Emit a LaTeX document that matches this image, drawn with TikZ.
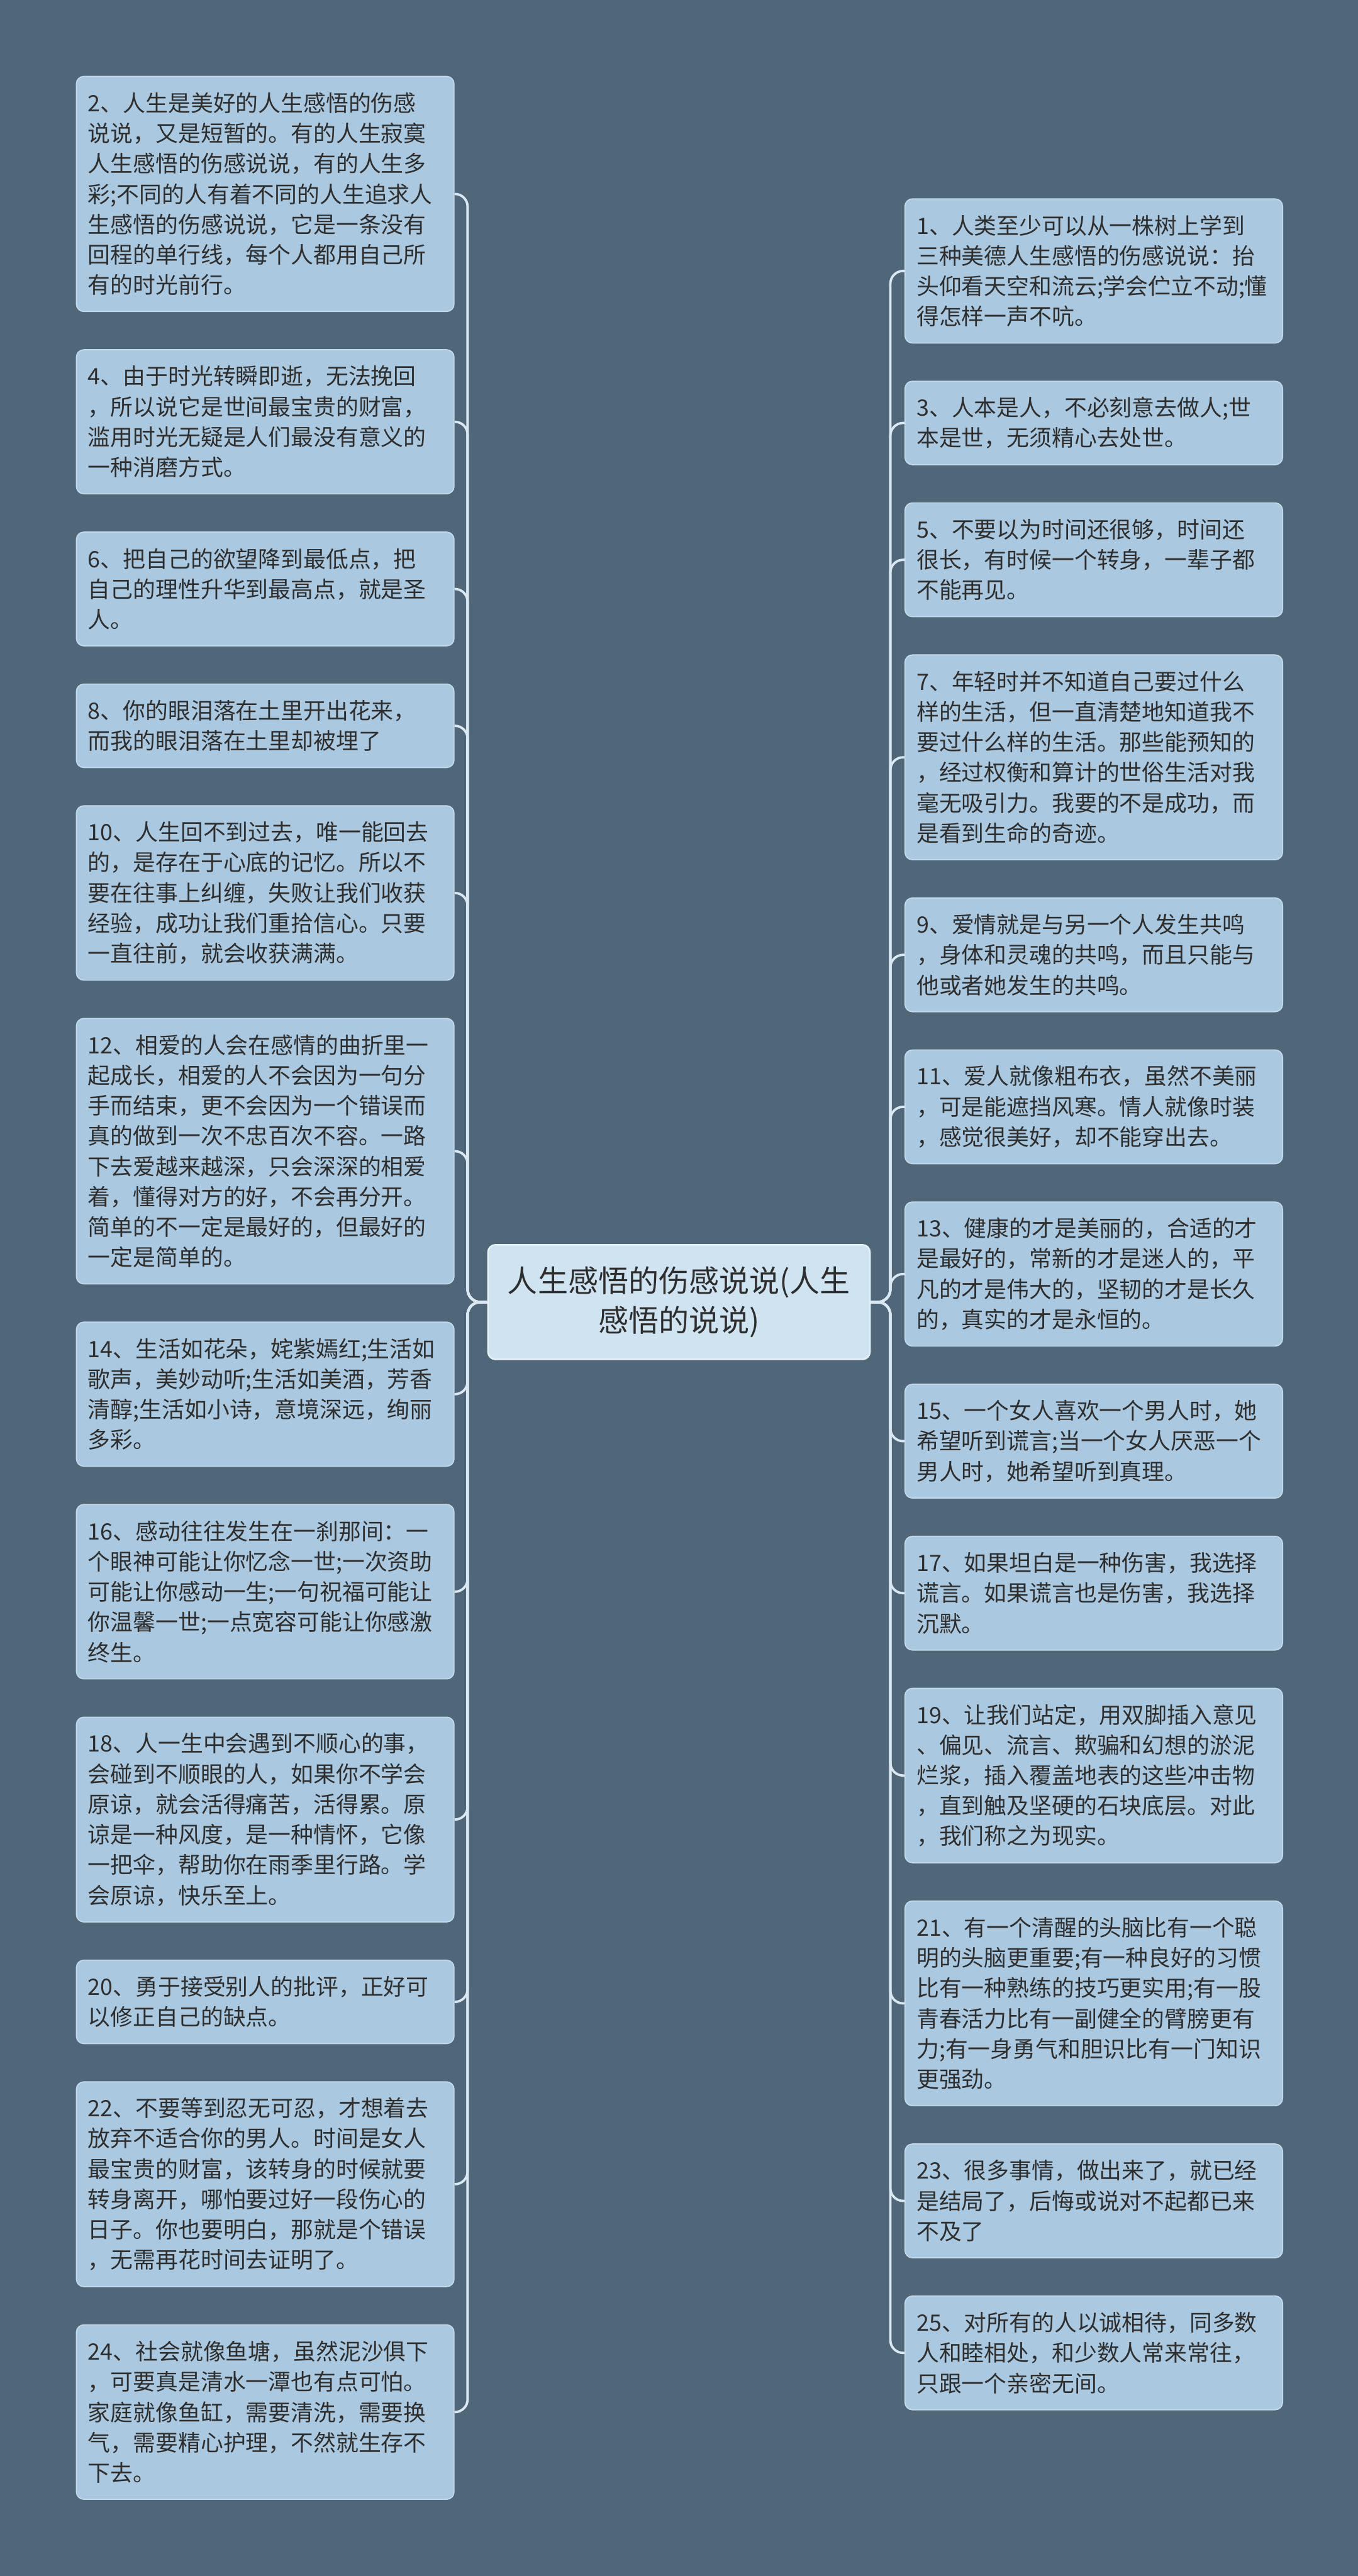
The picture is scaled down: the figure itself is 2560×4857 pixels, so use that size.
\documentclass[tikz,border=0pt]{standalone}
\usepackage{fontspec}
\newfontfamily\cjk{Noto Sans CJK SC}
\definecolor{bgc}{HTML}{4F6778}
\definecolor{leaffill}{HTML}{AAC9E0}
\definecolor{leafedge}{HTML}{C4DAEA}
\definecolor{centerfill}{HTML}{CFE3F1}
\definecolor{centeredge}{HTML}{E6F1F8}
\definecolor{txt}{HTML}{2E2E2E}
\definecolor{linec}{HTML}{D9E8F2}
\tikzset{
  leaf/.style={draw=leafedge, line width=2pt, fill=leaffill, rounded corners=14pt,
    text width=668pt, inner xsep=22pt, inner ysep=0pt, align=left, text=txt,
    font=\cjk\fontsize{42.5}{57.2}\selectfont},
  lleaf/.style={leaf, anchor=north west},
  rleaf/.style={leaf, anchor=north west},
  nlines/.style={minimum height={(57.2*#1+43)*1pt}},
  hub/.style={draw=centeredge, line width=3pt, fill=centerfill, rounded corners=14pt,
    minimum width=720pt, minimum height=216pt, align=center, text=txt, inner sep=0pt,
    font=\cjk\fontsize{57}{74}\selectfont},
  conn/.style={draw=linec, line width=4.5pt, rounded corners=24pt}
}
\begin{document}
\begin{tikzpicture}[x=1pt, y=-1pt]
\fill[bgc] (0,0) rectangle (2560,4857);
\useasboundingbox (0,0) rectangle (2560,4857);

\node[hub] (c) at (1280,2455) {人生感悟的伤感说说(人生\\感悟的说说)};

% left column
\node[lleaf, nlines=7] (b2) at (143,143) {2、人生是美好的人生感悟的伤感\\说说，又是短暂的。有的人生寂寞\\人生感悟的伤感说说，有的人生多\\彩;不同的人有着不同的人生追求人\\生感悟的伤感说说，它是一条没有\\回程的单行线，每个人都用自己所\\有的时光前行。};
\node[lleaf, nlines=4] (b4) at (143,658.4) {4、由于时光转瞬即逝，无法挽回\\，所以说它是世间最宝贵的财富，\\滥用时光无疑是人们最没有意义的\\一种消磨方式。};
\node[lleaf, nlines=3] (b6) at (143,1002.2) {6、把自己的欲望降到最低点，把\\自己的理性升华到最高点，就是圣\\人。};
\node[lleaf, nlines=2] (b8) at (143,1288.8) {8、你的眼泪落在土里开出花来，\\而我的眼泪落在土里却被埋了};
\node[lleaf, nlines=5] (b10) at (143,1518.2) {10、人生回不到过去，唯一能回去\\的，是存在于心底的记忆。所以不\\要在往事上纠缠，失败让我们收获\\经验，成功让我们重拾信心。只要\\一直往前，就会收获满满。};
\node[lleaf, nlines=8] (b12) at (143,1919.2) {12、相爱的人会在感情的曲折里一\\起成长，相爱的人不会因为一句分\\手而结束，更不会因为一个错误而\\真的做到一次不忠百次不容。一路\\下去爱越来越深，只会深深的相爱\\着，懂得对方的好，不会再分开。\\简单的不一定是最好的，但最好的\\一定是简单的。};
\node[lleaf, nlines=4] (b14) at (143,2491.8) {14、生活如花朵，姹紫嫣红;生活如\\歌声，美妙动听;生活如美酒，芳香\\清醇;生活如小诗，意境深远，绚丽\\多彩。};
\node[lleaf, nlines=5] (b16) at (143,2835.6) {16、感动往往发生在一刹那间：一\\个眼神可能让你忆念一世;一次资助\\可能让你感动一生;一句祝福可能让\\你温馨一世;一点宽容可能让你感激\\终生。};
\node[lleaf, nlines=6] (b18) at (143,3236.6) {18、人一生中会遇到不顺心的事，\\会碰到不顺眼的人，如果你不学会\\原谅，就会活得痛苦，活得累。原\\谅是一种风度，是一种情怀，它像\\一把伞，帮助你在雨季里行路。学\\会原谅，快乐至上。};
\node[lleaf, nlines=2] (b20) at (143,3694.8) {20、勇于接受别人的批评，正好可\\以修正自己的缺点。};
\node[lleaf, nlines=6] (b22) at (143,3924.2) {22、不要等到忍无可忍，才想着去\\放弃不适合你的男人。时间是女人\\最宝贵的财富，该转身的时候就要\\转身离开，哪怕要过好一段伤心的\\日子。你也要明白，那就是个错误\\，无需再花时间去证明了。};
\node[lleaf, nlines=5] (b24) at (143,4382.4) {24、社会就像鱼塘，虽然泥沙俱下\\，可要真是清水一潭也有点可怕。\\家庭就像鱼缸，需要清洗，需要换\\气，需要精心护理，不然就生存不\\下去。};

% right column
\node[rleaf, nlines=4] (b1) at (1705,374) {1、人类至少可以从一株树上学到\\三种美德人生感悟的伤感说说：抬\\头仰看天空和流云;学会伫立不动;懂\\得怎样一声不吭。};
\node[rleaf, nlines=2] (b3) at (1705,717.8) {3、人本是人，不必刻意去做人;世\\本是世，无须精心去处世。};
\node[rleaf, nlines=3] (b5) at (1705,947.2) {5、不要以为时间还很够，时间还\\很长，有时候一个转身，一辈子都\\不能再见。};
\node[rleaf, nlines=6] (b7) at (1705,1233.8) {7、年轻时并不知道自己要过什么\\样的生活，但一直清楚地知道我不\\要过什么样的生活。那些能预知的\\，经过权衡和算计的世俗生活对我\\毫无吸引力。我要的不是成功，而\\是看到生命的奇迹。};
\node[rleaf, nlines=3] (b9) at (1705,1692) {9、爱情就是与另一个人发生共鸣\\，身体和灵魂的共鸣，而且只能与\\他或者她发生的共鸣。};
\node[rleaf, nlines=3] (b11) at (1705,1978.6) {11、爱人就像粗布衣，虽然不美丽\\，可是能遮挡风寒。情人就像时装\\，感觉很美好，却不能穿出去。};
\node[rleaf, nlines=4] (b13) at (1705,2265.2) {13、健康的才是美丽的，合适的才\\是最好的，常新的才是迷人的，平\\凡的才是伟大的，坚韧的才是长久\\的，真实的才是永恒的。};
\node[rleaf, nlines=3] (b15) at (1705,2609) {15、一个女人喜欢一个男人时，她\\希望听到谎言;当一个女人厌恶一个\\男人时，她希望听到真理。};
\node[rleaf, nlines=3] (b17) at (1705,2895.6) {17、如果坦白是一种伤害，我选择\\谎言。如果谎言也是伤害，我选择\\沉默。};
\node[rleaf, nlines=5] (b19) at (1705,3182.2) {19、让我们站定，用双脚插入意见\\、偏见、流言、欺骗和幻想的淤泥\\烂浆，插入覆盖地表的这些冲击物\\，直到触及坚硬的石块底层。对此\\，我们称之为现实。};
\node[rleaf, nlines=6] (b21) at (1705,3583.2) {21、有一个清醒的头脑比有一个聪\\明的头脑更重要;有一种良好的习惯\\比有一种熟练的技巧更实用;有一股\\青春活力比有一副健全的臂膀更有\\力;有一身勇气和胆识比有一门知识\\更强劲。};
\node[rleaf, nlines=3] (b23) at (1705,4041.4) {23、很多事情，做出来了，就已经\\是结局了，后悔或说对不起都已来\\不及了};
\node[rleaf, nlines=3] (b25) at (1705,4328) {25、对所有的人以诚相待，同多数\\人和睦相处，和少数人常来常往，\\只跟一个亲密无间。};

% connectors
\foreach \b in {b2,b4,b6,b8,b10,b12,b14,b16,b18,b20,b22,b24}
  \draw[conn] (c.west) -- ++(-37,0) |- (\b.east);
\foreach \b in {b1,b3,b5,b7,b9,b11,b13,b15,b17,b19,b21,b23,b25}
  \draw[conn] (c.east) -- ++(37,0) |- (\b.west);
\end{tikzpicture}
\end{document}
